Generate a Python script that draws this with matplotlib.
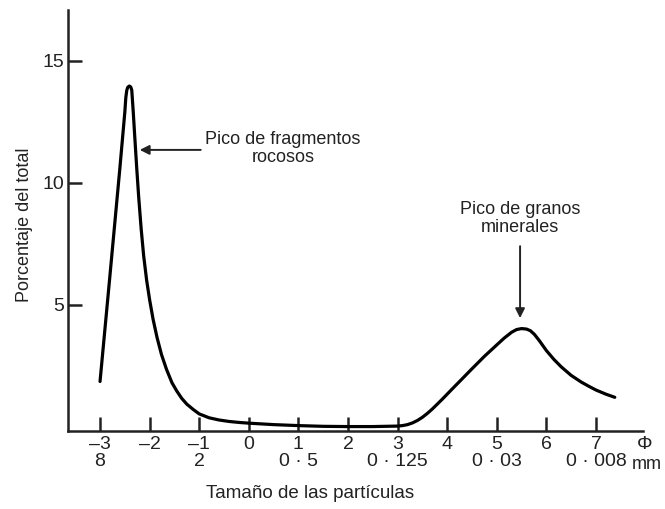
import matplotlib
matplotlib.use("Agg")
from matplotlib import pyplot as plt

plt.rcParams['font.family'] = ['Liberation Sans', 'DejaVu Sans']

# curve (phi units, percent of total)
phi = [-3.0, -2.8, -2.6, -2.5, -2.48, -2.46, -2.44, -2.41, -2.38, -2.36,
       -2.33, -2.30, -2.26, -2.22, -2.17, -2.12, -2.06, -2.0, -1.93, -1.85,
       -1.76, -1.66, -1.55, -1.45, -1.35, -1.25, -1.12, -1.0, -0.8, -0.6, -0.4,
       -0.2, 0.0, 0.5, 1.0, 1.5, 2.0, 2.5, 3.0, 3.1, 3.2, 3.3, 3.4, 3.5, 3.6,
       3.7, 3.8, 3.9, 4.0, 4.1, 4.25, 4.5, 4.75, 5.0, 5.15, 5.3, 5.4, 5.5, 5.6,
       5.68, 5.76, 5.86, 6.0, 6.15, 6.3, 6.5, 6.7, 6.85, 7.0, 7.2, 7.38]
percent = [1.85, 6.2, 10.6, 12.9, 13.5, 13.8, 13.92, 13.97, 13.93, 13.8,
           12.9, 11.9, 10.6, 9.4, 8.1, 7.0, 6.0, 5.2, 4.4, 3.65,
           2.95, 2.35, 1.8, 1.45, 1.15, 0.92, 0.7, 0.52, 0.36, 0.27, 0.21,
           0.17, 0.14, 0.08, 0.04, 0.01, 0.0, 0.0, 0.02, 0.04, 0.08, 0.15, 0.25, 0.38, 0.54,
           0.72, 0.92, 1.12, 1.33, 1.54, 1.85, 2.37, 2.88, 3.35, 3.63, 3.87, 3.98, 4.02, 4.0,
           3.93, 3.78, 3.52, 3.12, 2.76, 2.45, 2.1, 1.83, 1.66, 1.5, 1.33, 1.2]

xticks = [-3, -2, -1, 0, 1, 2, 3, 4, 5, 6, 7]
xlabels = ['\u20133\n8', '\u20132', '\u20131\n2', '0', '1\n0 \u00b7 5', '2',
           '3\n0 \u00b7 125', '4', '5\n0 \u00b7 03', '6', '7\n0 \u00b7 008']
yticks = [5, 10, 15]

txt = '#222222'

fig = plt.figure(figsize=(6.65, 5.09), dpi=100)
ax = fig.add_axes([0.1027, 0.1538, 0.8643, 0.8266])

ax.plot(phi, percent, color='black', lw=2.3, solid_joinstyle='round', solid_capstyle='round')

ax.set_xlim(-3.64, 7.95)
ax.set_ylim(-0.17, 17.09)

for s in ['top', 'right']:
    ax.spines[s].set_visible(False)
for s in ['left', 'bottom']:
    ax.spines[s].set_linewidth(1.8)
    ax.spines[s].set_color('#222222')

ax.set_xticks(xticks)
ax.set_xticklabels(xlabels, fontsize=14, color=txt, linespacing=1.0)
ax.set_yticks(yticks)
ax.set_yticklabels([str(v) for v in yticks], fontsize=14, color=txt)
ax.tick_params(direction='in', length=10, width=1.8, color='#222222')
ax.tick_params(axis='x', pad=4)
ax.tick_params(axis='y', pad=3)

ax.set_ylabel('Porcentaje del total', fontsize=13, color=txt)
ax.yaxis.set_label_coords(-0.061, 0.49)
ax.set_xlabel('Tama\u00f1o de las part\u00edculas', fontsize=13.5, color=txt)
ax.xaxis.set_label_coords(0.42, -0.128)

# phi and mm unit labels at the right end of the axis
ax.annotate('\u03a6', xy=(7.99, 0), xycoords=('data', 'axes fraction'),
            xytext=(0, -4), textcoords='offset points', ha='center', va='top',
            fontsize=14, color=txt, annotation_clip=False)
ax.annotate('mm', xy=(8.03, 0), xycoords=('data', 'axes fraction'),
            xytext=(0, -18), textcoords='offset points', ha='center', va='top',
            fontsize=13, color=txt, annotation_clip=False)

# annotations
ax.annotate('', xy=(-2.20, 11.35), xytext=(-0.97, 11.35),
            arrowprops=dict(arrowstyle='-|>', color='#222222', lw=1.4,
                            mutation_scale=14, shrinkA=0, shrinkB=0))
ax.text(0.69, 11.4, 'Pico de fragmentos\nrocosos', ha='center', va='center',
        fontsize=13, color=txt, linespacing=1.05)

ax.annotate('', xy=(5.47, 4.45), xytext=(5.47, 7.4),
            arrowprops=dict(arrowstyle='-|>', color='#222222', lw=1.4,
                            mutation_scale=14, shrinkA=0, shrinkB=0))
ax.text(5.47, 8.54, 'Pico de granos\nminerales', ha='center', va='center',
        fontsize=13, color=txt, linespacing=1.05)

fig.savefig('out.png', dpi=100)
